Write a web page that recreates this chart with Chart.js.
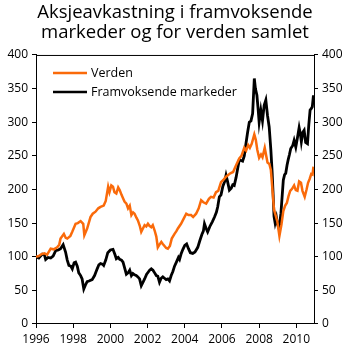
<!DOCTYPE html>
<html lang="no">
<head>
<meta charset="UTF-8">
<title>Aksjeavkastning</title>
<script src="https://cdn.jsdelivr.net/npm/chart.js"></script>
<style>
  html, body { margin: 0; padding: 0; background: #fff; }
  .wrap { width: 350px; height: 350px; }
</style>
</head>
<body>
<div class="wrap"><canvas id="aksjeChart" width="350" height="350"></canvas></div>
<script>
// Verden (indeks, 1996 = 100)
const verdenYears = [
  1996.0, 1996.15, 1996.3, 1996.45, 1996.6, 1996.79, 1996.95, 1997.14, 1997.25, 1997.32,
  1997.5, 1997.6, 1997.68, 1997.85, 1997.95, 1998.13, 1998.25, 1998.4, 1998.54, 1998.6,
  1998.75, 1998.93, 1999.05, 1999.2, 1999.35, 1999.47, 1999.64, 1999.75, 1999.88, 1999.95,
  2000.05, 2000.14, 2000.22, 2000.32, 2000.42, 2000.5, 2000.6, 2000.68, 2000.76, 2000.86,
  2000.95, 2001.04, 2001.13, 2001.22, 2001.3, 2001.4, 2001.48, 2001.58, 2001.66, 2001.75,
  2001.84, 2001.93, 2002.02, 2002.1, 2002.2, 2002.28, 2002.38, 2002.47, 2002.55, 2002.64,
  2002.74, 2002.82, 2002.91, 2003.0, 2003.09, 2003.2, 2003.3, 2003.45, 2003.55, 2003.63,
  2003.8, 2003.95, 2004.08, 2004.2, 2004.34, 2004.45, 2004.61, 2004.75, 2004.88, 2005.0,
  2005.15, 2005.3, 2005.41, 2005.55, 2005.68, 2005.8, 2005.95, 2006.1, 2006.22, 2006.35,
  2006.45, 2006.6, 2006.76, 2006.93, 2007.05, 2007.2, 2007.3, 2007.41, 2007.5, 2007.6,
  2007.74, 2007.82, 2007.9, 2008.0, 2008.1, 2008.18, 2008.3, 2008.38, 2008.45, 2008.55,
  2008.63, 2008.72, 2008.8, 2008.88, 2008.98, 2009.09, 2009.2, 2009.3, 2009.4, 2009.49,
  2009.58, 2009.67, 2009.77, 2009.88, 2009.97, 2010.06, 2010.15, 2010.25, 2010.33, 2010.45,
  2010.55, 2010.63, 2010.72, 2010.8, 2010.87, 2010.92
];
const verdenValues = [
  100, 101, 104, 105, 103, 112, 111, 114, 118, 127,
  134, 128, 127, 131, 137, 149, 150, 153, 149, 132,
  142, 159, 164, 167, 172, 174, 176, 183, 204, 196,
  206, 204, 196, 194, 203, 199, 192, 187, 182, 179,
  172, 176, 162, 166, 164, 158, 154, 146, 137, 142,
  147, 145, 149, 146, 144, 147, 139, 130, 114, 118,
  122, 119, 116, 113, 112, 116, 127, 134, 138, 142,
  149, 157, 164, 162, 162, 159, 164, 172, 184, 181,
  179, 186, 189, 188, 196, 198, 211, 215, 219, 222,
  224, 226, 236, 246, 250, 262, 258, 266, 262, 268,
  282, 274, 259, 247, 252, 248, 262, 250, 240, 238,
  229, 198, 170, 162, 152, 131, 148, 168, 176, 180,
  190, 198, 201, 206, 199, 198, 212, 210, 198, 189,
  200, 210, 216, 223, 222, 234
];

// Framvoksende markeder (indeks, 1996 = 100)
const emYears = [
  1996.0, 1996.15, 1996.34, 1996.45, 1996.52, 1996.65, 1996.79, 1996.92, 1997.06, 1997.2,
  1997.32, 1997.46, 1997.59, 1997.68, 1997.77, 1997.87, 1997.95, 1998.05, 1998.13, 1998.22,
  1998.3, 1998.4, 1998.48, 1998.57, 1998.66, 1998.75, 1998.85, 1999.02, 1999.15, 1999.29,
  1999.38, 1999.47, 1999.57, 1999.64, 1999.75, 1999.86, 2000.0, 2000.14, 2000.25, 2000.32,
  2000.42, 2000.5, 2000.6, 2000.68, 2000.78, 2000.86, 2000.95, 2001.04, 2001.13, 2001.21,
  2001.3, 2001.39, 2001.48, 2001.57, 2001.66, 2001.75, 2001.84, 2001.95, 2002.03, 2002.11,
  2002.2, 2002.29, 2002.38, 2002.47, 2002.55, 2002.64, 2002.73, 2002.82, 2002.91, 2003.0,
  2003.09, 2003.18, 2003.27, 2003.36, 2003.45, 2003.55, 2003.66, 2003.72, 2003.8, 2003.9,
  2004.0, 2004.1, 2004.2, 2004.3, 2004.43, 2004.55, 2004.7, 2004.8, 2004.92, 2005.0,
  2005.06, 2005.15, 2005.23, 2005.35, 2005.48, 2005.6, 2005.7, 2005.77, 2005.86, 2005.95,
  2006.05, 2006.15, 2006.22, 2006.3, 2006.4, 2006.5, 2006.58, 2006.66, 2006.76, 2006.85,
  2006.93, 2007.02, 2007.11, 2007.2, 2007.29, 2007.38, 2007.47, 2007.56, 2007.65, 2007.74,
  2007.8, 2007.88, 2007.95, 2008.0, 2008.09, 2008.18, 2008.27, 2008.36, 2008.45, 2008.54,
  2008.63, 2008.7, 2008.75, 2008.8, 2008.86, 2008.93, 2008.98, 2009.07, 2009.17, 2009.3,
  2009.37, 2009.43, 2009.5, 2009.56, 2009.63, 2009.7, 2009.8, 2009.88, 2009.97, 2010.06,
  2010.15, 2010.22, 2010.27, 2010.35, 2010.42, 2010.5, 2010.6, 2010.67, 2010.74, 2010.8,
  2010.86, 2010.92
];
const emValues = [
  100, 98, 104, 103, 96, 99, 98, 101, 109, 110,
  112, 118, 107, 95, 87, 86, 82, 91, 92, 86,
  76, 72, 67, 52, 58, 63, 64, 66, 72, 82,
  88, 90, 89, 87, 95, 106, 110, 111, 103, 97,
  99, 96, 95, 92, 82, 74, 76, 80, 72, 75,
  73, 72, 70, 67, 57, 62, 67, 74, 77, 80,
  82, 80, 76, 72, 71, 62, 68, 70, 68, 66,
  67, 64, 72, 78, 86, 92, 99, 96, 104, 111,
  117, 119, 112, 106, 105, 107, 114, 123, 133, 138,
  149, 142, 137, 145, 152, 159, 166, 174, 189, 192,
  205, 212, 221, 212, 199, 202, 207, 206, 218, 232,
  244, 243, 242, 250, 268, 285, 300, 302, 313, 365,
  350, 340, 318, 300, 318, 302, 325, 333, 310, 293,
  259, 225, 194, 160, 150, 158, 149, 142, 164, 214,
  222, 224, 236, 244, 252, 261, 265, 273, 263, 277,
  292, 282, 271, 285, 288, 270, 268, 296, 318, 320,
  323, 340
];

const yearTicks = [1996, 1998, 2000, 2002, 2004, 2006, 2008, 2010];

const fontFamily = "'Open Sans', 'DejaVu Sans', sans-serif";

function toPoints(xs, ys) {
  return xs.map((x, i) => ({ x: x, y: ys[i] }));
}

// ramme øverst + legende inne i plottet
const frameAndLegend = {
  id: 'frameAndLegend',
  afterDraw(chart) {
    const ctx = chart.ctx;
    const a = chart.chartArea;
    ctx.save();
    ctx.strokeStyle = '#000';
    ctx.lineWidth = 1;
    ctx.beginPath();
    ctx.moveTo(a.left, a.top + 0.5);
    ctx.lineTo(a.right, a.top + 0.5);
    ctx.stroke();

    const rows = chart.data.datasets;
    ctx.font = '12.5px ' + fontFamily;
    ctx.textBaseline = 'middle';
    ctx.fillStyle = '#000';
    rows.forEach((ds, i) => {
      const y = a.top + 18 + i * 19;
      ctx.strokeStyle = ds.borderColor;
      ctx.lineWidth = 2.5;
      ctx.beginPath();
      ctx.moveTo(a.left + 17, y);
      ctx.lineTo(a.left + 51, y);
      ctx.stroke();
      ctx.fillText(ds.label, a.left + 55, y);
    });
    ctx.restore();
  }
};

const axisTicks = {
  color: '#000',
  font: { family: fontFamily, size: 12 },
  padding: 4
};

new Chart(document.getElementById('aksjeChart'), {
  type: 'line',
  data: {
    datasets: [
      {
        label: 'Verden',
        data: toPoints(verdenYears, verdenValues),
        borderColor: '#fa6a0a',
        borderWidth: 2.5,
        pointRadius: 0,
        tension: 0
      },
      {
        label: 'Framvoksende markeder',
        data: toPoints(emYears, emValues),
        borderColor: '#000000',
        borderWidth: 2.8,
        pointRadius: 0,
        tension: 0
      }
    ]
  },
  options: {
    responsive: false,
    animation: false,
    layout: { padding: { left: 0, right: 0, top: 0, bottom: 0 } },
    plugins: {
      legend: { display: false },
      tooltip: { enabled: false },
      title: {
        display: true,
        text: ['Aksjeavkastning i framvoksende', 'markeder og for verden samlet'],
        color: '#000',
        font: { family: fontFamily, size: 18.5, weight: 'normal', lineHeight: 1.08 },
        padding: { top: 3, bottom: 12 }
      }
    },
    scales: {
      x: {
        type: 'linear',
        min: 1996,
        max: 2010.95,
        afterBuildTicks: s => { s.ticks = yearTicks.map(v => ({ value: v })); },
        afterFit: s => { s.height = 26; },
        ticks: Object.assign({}, axisTicks, {
          maxRotation: 0,
          autoSkip: false,
          callback: v => String(v)
        }),
        grid: { drawOnChartArea: false, drawTicks: true, tickLength: 4, color: '#000' },
        border: { display: true, color: '#000', width: 1 }
      },
      y: {
        position: 'left',
        min: 0,
        max: 400,
        afterFit: s => { s.width = 36; },
        ticks: Object.assign({}, axisTicks, {
          stepSize: 25,
          callback: v => (v % 50 === 0 ? String(v) : '')
        }),
        grid: { drawOnChartArea: false, drawTicks: true, tickLength: 4, color: '#000' },
        border: { display: true, color: '#000', width: 1 }
      },
      y2: {
        position: 'right',
        min: 0,
        max: 400,
        afterFit: s => { s.width = 36; },
        ticks: Object.assign({}, axisTicks, {
          stepSize: 25,
          callback: v => (v % 50 === 0 ? String(v) : '')
        }),
        grid: { drawOnChartArea: false, drawTicks: true, tickLength: 4, color: '#000' },
        border: { display: true, color: '#000', width: 1 }
      }
    }
  },
  plugins: [frameAndLegend]
});
</script>
</body>
</html>
